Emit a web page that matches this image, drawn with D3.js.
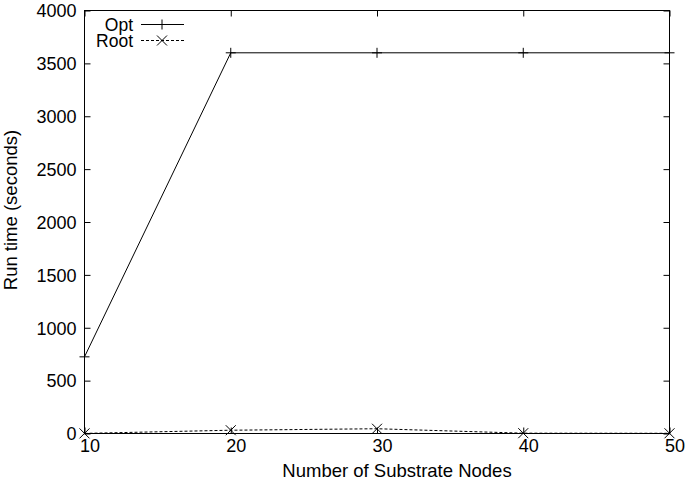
<!DOCTYPE html>
<html>
<head>
<meta charset="utf-8">
<script src="https://cdn.jsdelivr.net/npm/d3@7"></script>
<style>
  body { margin: 0; background: #fff; }
  svg { display: block; font-family: "Liberation Sans", Arial, Helvetica, sans-serif; }
  .axis path { display: none; }
  .axis line { stroke: #000; stroke-width: 1; }
  .axis text { font-size: 18px; fill: #000; }
</style>
</head>
<body>
<script>
// data
var nodes = [10, 20, 30, 40, 50];
var optTimes = [725, 3600, 3600, 3600, 3600];
var rootTimes = [1, 31, 45, 3, 2];
var xTicks = [10, 20, 30, 40, 50];
var yTicks = [0, 500, 1000, 1500, 2000, 2500, 3000, 3500, 4000];
var seriesNames = ['Opt', 'Root'];

var W = 685, H = 483;
var m = { left: 84.5, right: 669.5, top: 10.5, bottom: 433.5 };

var svg = d3.select('body').append('svg')
  .attr('width', W).attr('height', H);

var x = d3.scaleLinear().domain([10, 50]).range([m.left, m.right]);
var y = d3.scaleLinear().domain([0, 4000]).range([m.bottom, m.top]);

// axes, gnuplot style: ticks point inwards on all four sides
svg.append('g').attr('class', 'axis')
  .attr('transform', 'translate(' + m.left + ',0)')
  .call(d3.axisLeft(y).tickValues(yTicks).tickSize(-6).tickPadding(8).tickFormat(d3.format('d')))
  .selectAll('text').attr('dy', '0.35em');

svg.append('g').attr('class', 'axis')
  .attr('transform', 'translate(' + m.right + ',0)')
  .call(d3.axisRight(y).tickValues(yTicks).tickSize(-6).tickFormat(''));

// the labels sit a little right of their ticks in the original
svg.append('g').attr('class', 'axis')
  .attr('transform', 'translate(0,' + m.bottom + ')')
  .call(d3.axisBottom(x).tickValues(xTicks).tickSize(-6).tickPadding(6).tickFormat(d3.format('d')))
  .selectAll('text').attr('dy', '0.71em').attr('dx', 5);

svg.append('g').attr('class', 'axis')
  .attr('transform', 'translate(0,' + m.top + ')')
  .call(d3.axisTop(x).tickValues(xTicks).tickSize(-6).tickFormat(''));

// border
svg.append('rect')
  .attr('x', m.left).attr('y', m.top)
  .attr('width', m.right - m.left).attr('height', m.bottom - m.top)
  .attr('fill', 'none').attr('stroke', '#000').attr('stroke-width', 1);

// axis titles
svg.append('text')
  .attr('x', 397).attr('y', 477)
  .attr('text-anchor', 'middle').attr('font-size', 18.5)
  .text('Number of Substrate Nodes');

svg.append('text')
  .attr('transform', 'translate(17,210) rotate(-90)')
  .attr('text-anchor', 'middle').attr('font-size', 18.5)
  .text('Run time (seconds)');

// markers
function plus(g, cx, cy) {
  g.append('path').attr('d', 'M' + (cx - 5) + ',' + cy + 'H' + (cx + 5) + 'M' + cx + ',' + (cy - 5) + 'V' + (cy + 5))
    .attr('stroke', '#000').attr('stroke-width', 1).attr('fill', 'none');
}
function cross(g, cx, cy) {
  g.append('path').attr('d', 'M' + (cx - 5) + ',' + (cy - 5) + 'L' + (cx + 5) + ',' + (cy + 5) +
      'M' + (cx - 5) + ',' + (cy + 5) + 'L' + (cx + 5) + ',' + (cy - 5))
    .attr('stroke', '#000').attr('stroke-width', 1).attr('fill', 'none');
}

var line = d3.line().x(function(d){ return x(d[0]); }).y(function(d){ return y(d[1]); });

var optData = d3.zip(nodes, optTimes),
    rootData = d3.zip(nodes, rootTimes);

var plot = svg.append('g');

plot.append('path').datum(rootData)
  .attr('d', line).attr('fill', 'none')
  .attr('stroke', '#000').attr('stroke-width', 1).attr('stroke-dasharray', '3,2');
rootData.forEach(function(d){ cross(plot, x(d[0]), y(d[1])); });

plot.append('path').datum(optData)
  .attr('d', line).attr('fill', 'none')
  .attr('stroke', '#000').attr('stroke-width', 1);
optData.forEach(function(d){ plus(plot, x(d[0]), y(d[1])); });

// legend
var legend = svg.append('g');
seriesNames.forEach(function(name, i){
  var ly = 24.5 + i * 16;
  legend.append('text')
    .attr('x', 133).attr('y', ly).attr('dy', '0.35em')
    .attr('text-anchor', 'end').attr('font-size', 17.5)
    .text(name);
  legend.append('line')
    .attr('x1', 141).attr('x2', 184).attr('y1', ly).attr('y2', ly)
    .attr('stroke', '#000').attr('stroke-width', 1)
    .attr('stroke-dasharray', i === 0 ? null : '3,2');
  if (i === 0) plus(legend, 162, ly); else cross(legend, 162, ly);
});
</script>
</body>
</html>
